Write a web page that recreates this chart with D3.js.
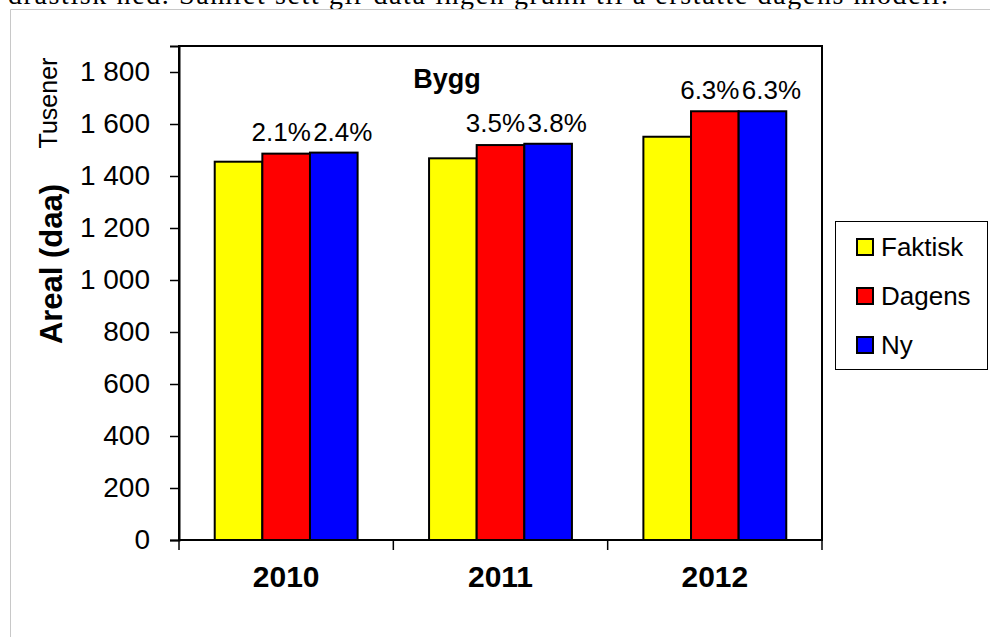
<!DOCTYPE html>
<html>
<head>
<meta charset="utf-8">
<script src="https://cdn.jsdelivr.net/npm/d3@7/dist/d3.min.js"></script>
<style>
  body { margin: 0; background: #fff; }
  svg { display: block; font-family: Arial, "Liberation Sans", sans-serif; }
</style>
</head>
<body>
<svg id="chart" width="990" height="637"></svg>
<script>
// data (thousands of daa)
const years = ["2010", "2011", "2012"];
const seriesNames = ["Faktisk", "Dagens", "Ny"];
const faktisk = [1455, 1468, 1551];
const dagens = [1486, 1519, 1649];
const ny = [1490, 1524, 1649];
const dagensLabels = ["2.1%", "3.5%", "6.3%"];
const nyLabels = ["2.4%", "3.8%", "6.3%"];
const yTicks = [0, 200, 400, 600, 800, 1000, 1200, 1400, 1600, 1800];
const colors = ["#ffff00", "#ff0000", "#0000ff"];

const svg = d3.select("#chart");

// piece of the page text cut off above the chart
svg.append("text")
  .attr("x", 8).attr("y", 4)
  .attr("textLength", 940)
  .style("font-family", "'Liberation Serif', 'Times New Roman', serif")
  .style("font-size", "28px")
  .text("drastisk ned. Samlet sett gir data ingen grunn til å erstatte dagens modell.");

// grey frame of the chart object
svg.append("path")
  .attr("d", "M10.5,637 V9.5 H990")
  .attr("fill", "none")
  .attr("stroke", "#c8c8c8")
  .attr("stroke-width", 1);

const plot = { left: 179, right: 822, top: 46, bottom: 540 };

const x = d3.scaleBand().domain(years).range([plot.left, plot.right]);
// gap width 150%: three bars take 3/(3+1.5) of the band
const inner = d3.scaleBand().domain(seriesNames)
  .range([0, x.bandwidth() * 3 / 4.5]);
const groupPad = (x.bandwidth() - inner.range()[1]) / 2;

const y = d3.scaleLinear().domain([0, 1900]).range([plot.bottom, plot.top]);

const rows = years.map((yr, i) => ({
  year: yr,
  values: [faktisk[i], dagens[i], ny[i]]
}));

// bars
const groups = svg.selectAll("g.year")
  .data(rows)
  .enter().append("g")
  .attr("class", "year")
  .attr("transform", d => `translate(${x(d.year) + groupPad},0)`);

groups.selectAll("rect")
  .data(d => d.values.map((v, j) => ({ name: seriesNames[j], value: v, c: colors[j] })))
  .enter().append("rect")
  .attr("x", d => inner(d.name))
  .attr("width", inner.bandwidth())
  .attr("y", d => y(d.value))
  .attr("height", d => y(0) - y(d.value))
  .attr("fill", d => d.c)
  .attr("stroke", "#000")
  .attr("stroke-width", 2);

// plot frame
svg.append("rect")
  .attr("x", plot.left).attr("y", plot.top)
  .attr("width", plot.right - plot.left)
  .attr("height", plot.bottom - plot.top)
  .attr("fill", "none")
  .attr("stroke", "#000")
  .attr("stroke-width", 2);

// y axis
const yAxis = svg.append("g")
  .attr("transform", `translate(${plot.left},0)`)
  .call(d3.axisLeft(y).tickValues(yTicks).tickSize(9).tickPadding(20)
    .tickFormat(d => d3.format(",")(d).replace(",", " ")));
yAxis.select(".domain").attr("stroke-width", 2);
yAxis.selectAll(".tick line").attr("stroke-width", 1.5);
yAxis.selectAll("text")
  .style("font-size", "28px")
  .style("font-family", "Arial, 'Liberation Sans', sans-serif")
  .attr("fill", "#000");

// x axis: ticks on the category boundaries
const xAxis = svg.append("g")
  .attr("transform", `translate(0,${plot.bottom})`)
  .call(d3.axisBottom(x).tickSize(0).tickPadding(26));
xAxis.select(".domain").remove();
xAxis.selectAll("text")
  .style("font-size", "30px")
  .style("font-weight", "bold")
  .style("font-family", "Arial, 'Liberation Sans', sans-serif")
  .attr("fill", "#000");
const bounds = years.map(d => x(d)).concat([x.range()[1]]);
xAxis.selectAll("line.sep")
  .data(bounds)
  .enter().append("line")
  .attr("class", "sep")
  .attr("x1", d => d).attr("x2", d => d)
  .attr("y1", 0).attr("y2", 10)
  .attr("stroke", "#000")
  .attr("stroke-width", 1.5);

// percentage labels over Dagens and Ny bars
const lblSize = 26;
rows.forEach((d, i) => {
  const gx = x(d.year) + groupPad;
  const cRed = gx + inner("Dagens") + inner.bandwidth() / 2;
  const cBlue = gx + inner("Ny") + inner.bandwidth() / 2;
  const t1 = svg.append("text")
    .attr("x", cRed - 5)
    .attr("text-anchor", "middle")
    .style("font-size", lblSize + "px")
    .text(dagensLabels[i]);
  const w1 = t1.node().getComputedTextLength();
  const t2 = svg.append("text")
    .attr("text-anchor", "middle")
    .style("font-size", lblSize + "px")
    .text(nyLabels[i]);
  const w2 = t2.node().getComputedTextLength();
  const minX = cRed - 5 + w1 / 2 + w2 / 2 + 1;
  t2.attr("x", Math.max(cBlue + 9, minX));
  // both labels of a group sit on the same line
  const yl = Math.min(y(dagens[i]), y(ny[i])) - 12;
  t1.attr("y", yl); t2.attr("y", yl);
});

// title
svg.append("text")
  .attr("x", 447).attr("y", 88)
  .attr("text-anchor", "middle")
  .style("font-size", "27px")
  .style("font-weight", "bold")
  .text("Bygg");

// axis titles
svg.append("text")
  .attr("transform", "translate(62,264) rotate(-90)")
  .attr("text-anchor", "middle")
  .style("font-size", "31px")
  .style("font-weight", "bold")
  .text("Areal (daa)");

svg.append("text")
  .attr("transform", "translate(57,103) rotate(-90)")
  .attr("text-anchor", "middle")
  .style("font-size", "25px")
  .text("Tusener");

// legend
const legend = svg.append("g");
legend.append("rect")
  .attr("x", 835.5).attr("y", 221.5)
  .attr("width", 152).attr("height", 148)
  .attr("fill", "#fff")
  .attr("stroke", "#000")
  .attr("stroke-width", 1);

const leg = legend.selectAll("g.item")
  .data(seriesNames)
  .enter().append("g")
  .attr("class", "item")
  .attr("transform", (d, i) => `translate(857,${247 + i * 49})`);
leg.append("rect")
  .attr("x", 0).attr("y", -8)
  .attr("width", 16).attr("height", 16)
  .attr("fill", (d, i) => colors[i])
  .attr("stroke", "#000")
  .attr("stroke-width", 2);
leg.append("text")
  .attr("x", 24).attr("y", 9)
  .style("font-size", "26px")
  .text(d => d);
</script>
</body>
</html>
